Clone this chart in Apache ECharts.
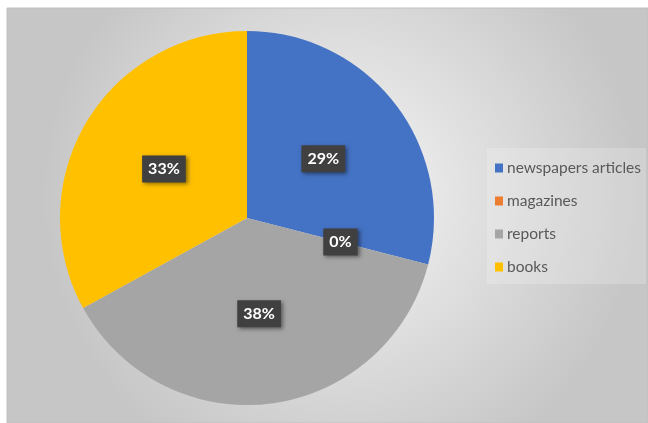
<!DOCTYPE html>
<html>
<head>
<meta charset="utf-8">
<script src="https://cdn.jsdelivr.net/npm/echarts@6/dist/echarts.min.js"></script>
<style>
  html, body { margin: 0; padding: 0; background: #fff; }
  #chart { width: 648px; height: 423px; }
</style>
</head>
<body>
<div id="chart"></div>
<script>
// Source types and their share (percent)
const categories = ['newspapers articles', 'magazines', 'reports', 'books'];
const shares = [29, 0, 38, 33];
const colors = ['#4472C4', '#ED7D31', '#A5A5A5', '#FFC000'];

const chart = echarts.init(document.getElementById('chart'), null, { renderer: 'canvas' });

const pieData = categories.map((name, i) => ({
  name: name,
  value: shares[i],
  itemStyle: { color: colors[i] }
}));

chart.setOption({
  backgroundColor: '#ffffff',
  animation: false,
  graphic: [{
    type: 'rect',
    z: -10,
    shape: { x: 7, y: 8, width: 641, height: 415 },
    style: {
      fill: new echarts.graphic.RadialGradient(0.52, 0.45, 0.72, [
        { offset: 0, color: '#f6f6f6' },
        { offset: 1, color: '#c6c6c6' }
      ]),
      stroke: '#c0c0c0',
      lineWidth: 1
    }
  }],
  legend: {
    orient: 'vertical',
    left: 487,
    top: 148,
    padding: [12, 5, 9, 8],
    backgroundColor: 'rgba(255,255,255,0.2)',
    itemWidth: 8,
    itemHeight: 9,
    itemGap: 17,
    icon: 'rect',
    data: categories,
    textStyle: {
      fontFamily: 'Lato, "Open Sans", sans-serif',
      fontSize: 15.5,
      lineHeight: 15,
      color: '#595959',
      padding: [0, 0, 0, -1]
    }
  },
  series: [{
    type: 'pie',
    center: [247, 218],
    radius: [0, 187],
    startAngle: 90,
    clockwise: true,
    avoidLabelOverlap: false,
    stillShowZeroSum: true,
    minShowLabelAngle: 0,
    itemStyle: { borderWidth: 0 },
    label: {
      show: true,
      position: 'inside',
      formatter: '{c}%',
      color: '#ffffff',
      fontFamily: 'Lato, "Open Sans", sans-serif',
      fontWeight: 'bold',
      fontSize: 16,
      backgroundColor: '#404040',
      padding: [6, 6, 5, 6],
      shadowColor: 'rgba(0,0,0,0.45)',
      shadowBlur: 4,
      shadowOffsetX: 2,
      shadowOffsetY: 2
    },
    labelLine: { show: false },
    emphasis: { disabled: true },
    data: pieData
  }]
});
</script>
</body>
</html>
